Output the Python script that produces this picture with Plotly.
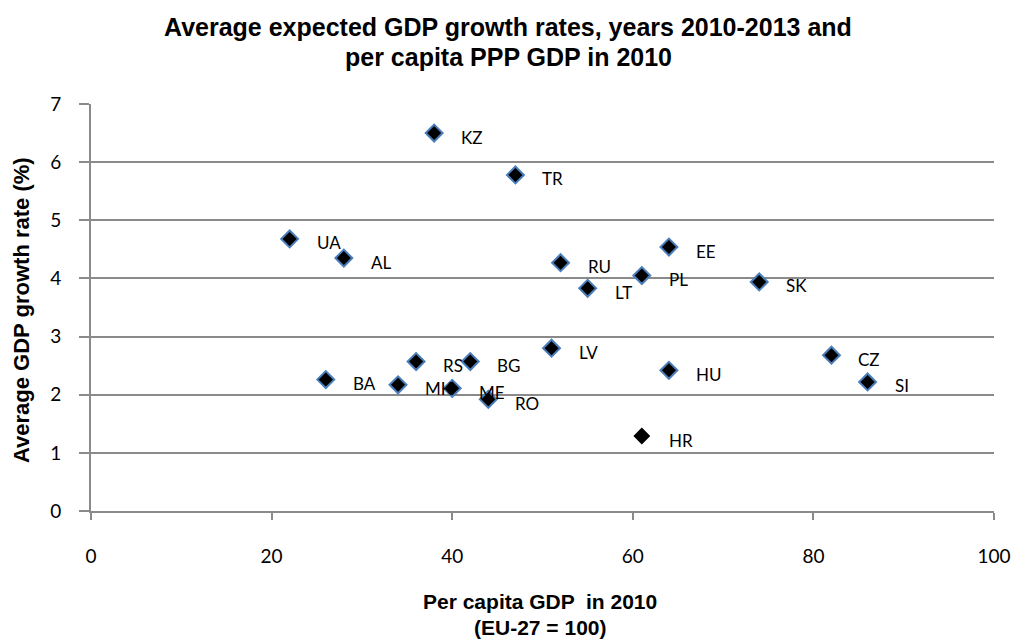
import plotly.graph_objects as go

# Country codes, per capita PPP GDP 2010 (EU-27 = 100) and average expected GDP growth 2010-2013 (%)
countries = ["KZ", "TR", "UA", "AL", "RU", "EE", "PL", "LT", "SK", "LV", "HU",
             "CZ", "SI", "BA", "MK", "RS", "ME", "BG", "RO", "HR"]
gdp_per_capita = [38, 47, 22, 28, 52, 64, 61, 55, 74, 51, 64,
                  82, 86, 26, 34, 36, 40, 42, 44, 61]
growth_rate = [6.50, 5.78, 4.68, 4.35, 4.27, 4.54, 4.05, 3.83, 3.94, 2.80, 2.42,
               2.68, 2.22, 2.26, 2.17, 2.57, 2.11, 2.57, 1.92, 1.29]

x_ticks = [0, 20, 40, 60, 80, 100]
y_ticks = [0, 1, 2, 3, 4, 5, 6, 7]

title_lines = ["Average expected GDP growth rates, years 2010-2013 and",
               "per capita PPP GDP in 2010"]
x_title_lines = ["Per capita GDP  in 2010", "(EU-27 = 100)"]
y_title = "Average GDP growth rate (%)"

W, H = 1016, 639
L, R, T, B = 91, 22, 104, 128
PW, PH = W - L - R, H - T - B

AXIS_GREY = "#8a8a8a"
LABEL_FONT = "Lato, 'Open Sans', sans-serif"
TITLE_FONT = "'Liberation Sans', Arial, sans-serif"


def px_x(px):
    """Horizontal pixel position -> paper fraction."""
    return (px - L) / PW


def px_y(py):
    """Vertical pixel position (from top) -> paper fraction."""
    return (H - B - py) / PH


# HR is drawn without the blue outline
outline = ["rgba(0,0,0,0)" if c == "HR" else "#4a7ebb" for c in countries]

fig = go.Figure()
fig.add_trace(go.Scatter(
    x=gdp_per_capita,
    y=growth_rate,
    mode="markers",
    marker=dict(symbol="diamond", size=13, color="black",
                line=dict(color=outline, width=2)),
    hoverinfo="text",
    hovertext=countries,
    showlegend=False,
    cliponaxis=False,
))

# Country labels to the right of each marker
for c, x, y in zip(countries, gdp_per_capita, growth_rate):
    fig.add_annotation(x=x, y=y, text=c, showarrow=False, xanchor="left",
                       yanchor="middle", xshift=25, yshift=-4,
                       font=dict(family=LABEL_FONT, size=17, color="black"))

# Chart title, one annotation per line
for line, ypix in zip(title_lines, [27, 57]):
    fig.add_annotation(x=px_x(508), y=px_y(ypix), xref="paper", yref="paper",
                       xanchor="center", yanchor="middle", showarrow=False,
                       text=f"<b>{line}</b>",
                       font=dict(family=TITLE_FONT, size=25, color="black"))

# X axis title
for line, ypix in zip(x_title_lines, [601, 627]):
    fig.add_annotation(x=px_x(540), y=px_y(ypix), xref="paper", yref="paper",
                       xanchor="center", yanchor="middle", showarrow=False,
                       text=f"<b>{line}</b>",
                       font=dict(family=TITLE_FONT, size=21, color="black"))

# Y axis title
fig.add_annotation(x=px_x(21), y=px_y(310), xref="paper", yref="paper",
                   xanchor="center", yanchor="middle", showarrow=False,
                   textangle=-90, text=f"<b>{y_title}</b>",
                   font=dict(family=TITLE_FONT, size=22, color="black"))

fig.update_layout(
    width=W, height=H,
    margin=dict(l=L, r=R, t=T, b=B, autoexpand=False),
    paper_bgcolor="white", plot_bgcolor="white",
    xaxis=dict(
        range=[0, 100], tickvals=x_ticks, showgrid=False, zeroline=False,
        showline=True, linecolor=AXIS_GREY, linewidth=2,
        ticks="outside", ticklen=7, tickwidth=2, tickcolor=AXIS_GREY,
        tickfont=dict(family=LABEL_FONT, size=19, color="black"),
        ticklabelstandoff=20, automargin=False,
    ),
    yaxis=dict(
        range=[0, 7], tickvals=y_ticks, showgrid=True, gridcolor=AXIS_GREY,
        gridwidth=1.5, zeroline=False,
        showline=True, linecolor=AXIS_GREY, linewidth=2,
        ticks="outside", ticklen=10, tickwidth=2, tickcolor=AXIS_GREY,
        tickfont=dict(family=LABEL_FONT, size=19, color="black"),
        ticklabelstandoff=14, automargin=False,
    ),
)

fig.write_html("out.html")
